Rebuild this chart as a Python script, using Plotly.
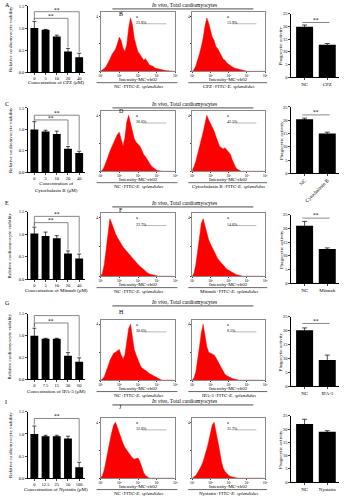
import numpy as np
import plotly.graph_objects as go

W, H = 346, 500
FONT = "Liberation Serif"


def fx(px):
    return px / W


def fy(py):
    return 1 - py / H


# ---------------- data ----------------
conc_cpz = ["0", "5", "10", "20", "40"]
conc_cytb = ["0", "5", "10", "20", "40"]
conc_mitmab = ["0", "5", "10", "20", "40"]
conc_ipa3 = ["0", "7.5", "15", "30", "60"]
conc_nys = ["0", "12.5", "25", "50", "100"]

viab_cpz = [1.00, 0.96, 0.81, 0.47, 0.34]
viab_cpz_err = [0.15, 0.01, 0.03, 0.07, 0.09]
viab_cytb = [1.00, 0.95, 0.89, 0.55, 0.45]
viab_cytb_err = [0.18, 0.03, 0.07, 0.05, 0.04]
viab_mitmab = [1.02, 0.96, 0.91, 0.57, 0.46]
viab_mitmab_err = [0.14, 0.09, 0.06, 0.06, 0.10]
viab_ipa3 = [1.00, 0.93, 0.93, 0.54, 0.40]
viab_ipa3_err = [0.17, 0.01, 0.01, 0.07, 0.09]
viab_nys = [1.00, 0.95, 0.95, 0.90, 0.25]
viab_nys_err = [0.18, 0.02, 0.02, 0.05, 0.11]

groups_cpz = ["NC", "CPZ"]
groups_cytb = ["NC", "Cytochalasin B"]
groups_mitmab = ["NC", "Mitmab"]
groups_ipa3 = ["NC", "IPA-3"]
groups_nys = ["NC", "Nystatin"]

phago_cpz = [19.9, 12.8]
phago_cpz_err = [0.7, 0.5]
phago_cytb = [20.4, 15.0]
phago_cytb_err = [0.4, 0.5]
phago_mitmab = [21.0, 12.5]
phago_mitmab_err = [1.6, 0.4]
phago_ipa3 = [20.2, 9.4]
phago_ipa3_err = [0.8, 1.8]
phago_nys = [21.9, 19.0]
phago_nys_err = [1.8, 0.4]

# histogram bin heights (relative counts)
hist_nc_cpz = [0, 0.02, 0.05, 0.09, 0.15, 0.22, 0.3, 0.36, 0.4, 0.5, 0.62, 0.56, 0.42, 0.36,
               0.48, 0.78, 0.97, 0.85, 0.6, 0.47, 0.35, 0.31, 0.25, 0.2, 0.23, 0.18, 0.12, 0.1,
               0.09, 0.06, 0.05, 0.04, 0.03, 0.02, 0.02, 0.01, 0.01, 0.005, 0, 0]
hist_cpz = [0, 0.03, 0.1, 0.2, 0.32, 0.45, 0.6, 0.82, 0.97, 0.88, 0.76, 0.62, 0.56, 0.45, 0.41,
            0.35, 0.29, 0.22, 0.2, 0.15, 0.13, 0.1, 0.08, 0.06, 0.05, 0.04, 0.03, 0.02, 0.02,
            0.01, 0, 0, 0, 0, 0, 0, 0, 0, 0, 0]
hist_nc_cytb = [0, 0.02, 0.08, 0.16, 0.26, 0.36, 0.44, 0.52, 0.6, 0.66, 0.7, 0.55, 0.45, 0.6,
                0.88, 1.0, 0.85, 0.7, 0.58, 0.52, 0.48, 0.45, 0.38, 0.3, 0.26, 0.2, 0.14, 0.1,
                0.07, 0.04, 0.02, 0.01, 0, 0, 0, 0, 0, 0, 0, 0]
hist_cytb = [0.02, 0.08, 0.18, 0.3, 0.42, 0.55, 0.7, 0.85, 1.0, 0.92, 0.85, 0.8, 0.72, 0.62,
             0.52, 0.45, 0.42, 0.4, 0.42, 0.38, 0.35, 0.3, 0.2, 0.12, 0.06, 0.03, 0.01, 0, 0,
             0, 0, 0, 0, 0, 0, 0, 0, 0, 0, 0]
hist_nc_mitmab = [0, 0.05, 0.2, 0.45, 0.75, 0.98, 0.9, 0.8, 0.72, 0.66, 0.6, 0.55, 0.5, 0.46,
                  0.42, 0.38, 0.34, 0.3, 0.27, 0.24, 0.2, 0.17, 0.14, 0.11, 0.08, 0.06, 0.04,
                  0.03, 0.02, 0.01, 0, 0, 0, 0, 0, 0, 0, 0, 0, 0]
hist_mitmab = [0, 0.05, 0.2, 0.45, 0.7, 0.9, 0.98, 0.85, 0.72, 0.62, 0.55, 0.48, 0.42, 0.36,
               0.3, 0.26, 0.22, 0.18, 0.15, 0.12, 0.1, 0.08, 0.06, 0.04, 0.03, 0.02, 0.01, 0,
               0, 0, 0, 0, 0, 0, 0, 0, 0, 0, 0, 0]
hist_nc_ipa3 = [0, 0.02, 0.06, 0.14, 0.25, 0.35, 0.42, 0.48, 0.5, 0.52, 0.55, 0.45, 0.38,
                0.45, 0.7, 0.92, 1.0, 0.8, 0.55, 0.45, 0.35, 0.28, 0.22, 0.2, 0.18, 0.15, 0.12,
                0.1, 0.08, 0.06, 0.04, 0.02, 0.01, 0, 0, 0, 0, 0, 0, 0]
hist_ipa3 = [0, 0.04, 0.15, 0.35, 0.6, 0.85, 1.0, 0.8, 0.6, 0.5, 0.48, 0.46, 0.45, 0.4, 0.34,
             0.28, 0.22, 0.15, 0.1, 0.08, 0.06, 0.04, 0.03, 0.02, 0.01, 0.01, 0, 0, 0, 0, 0,
             0, 0, 0, 0, 0, 0, 0, 0, 0]
hist_nc_nys = [0, 0.05, 0.15, 0.3, 0.48, 0.66, 0.82, 0.95, 1.0, 0.9, 0.8, 0.7, 0.62, 0.55,
               0.5, 0.45, 0.4, 0.36, 0.34, 0.35, 0.36, 0.3, 0.2, 0.1, 0.05, 0.02, 0, 0, 0, 0,
               0, 0, 0, 0, 0, 0, 0, 0, 0, 0]
hist_nys = [0, 0.02, 0.05, 0.1, 0.15, 0.22, 0.3, 0.4, 0.52, 0.65, 0.8, 0.95, 1.0, 0.85, 0.65,
            0.5, 0.3, 0.18, 0.12, 0.08, 0.05, 0.03, 0.02, 0.01, 0, 0, 0, 0, 0, 0, 0, 0, 0, 0,
            0, 0, 0, 0, 0, 0]

gate_pcts = [["23.8%", "13.9%"], ["36.6%", "42.5%"], ["22.7%", "14.6%"],
             ["30.6%", "8.5%"], ["32.0%", "31.7%"]]

hist_ticks = ["10¹", "10²", "10³", "10⁴", "10⁵"]
viab_ticks = ["0.0", "0.5", "1.0", "1.5"]

rows = [
    dict(letters=("A", "B"), conc=conc_cpz, viab=viab_cpz, verr=viab_cpz_err,
         xtitle="Concentration of CPZ (μM)", groups=groups_cpz, ph=phago_cpz, pherr=phago_cpz_err,
         h1=hist_nc_cpz, h2=hist_cpz, cond="CPZ"),
    dict(letters=("C", "D"), conc=conc_cytb, viab=viab_cytb, verr=viab_cytb_err,
         xtitle="Concentration of<br>Cytochalasin B (μM)", groups=groups_cytb, ph=phago_cytb,
         pherr=phago_cytb_err, h1=hist_nc_cytb, h2=hist_cytb, cond="Cytochalasin B"),
    dict(letters=("E", "F"), conc=conc_mitmab, viab=viab_mitmab, verr=viab_mitmab_err,
         xtitle="Concentration of Mitmab (μM)", groups=groups_mitmab, ph=phago_mitmab,
         pherr=phago_mitmab_err, h1=hist_nc_mitmab, h2=hist_mitmab, cond="Mitmab"),
    dict(letters=("G", "H"), conc=conc_ipa3, viab=viab_ipa3, verr=viab_ipa3_err,
         xtitle="Concentration of IPA-3 (μM)", groups=groups_ipa3, ph=phago_ipa3,
         pherr=phago_ipa3_err, h1=hist_nc_ipa3, h2=hist_ipa3, cond="IPA-3"),
    dict(letters=("I", "J"), conc=conc_nys, viab=viab_nys, verr=viab_nys_err,
         xtitle="Concentration of Nystatin (μM)", groups=groups_nys, ph=phago_nys,
         pherr=phago_nys_err, h1=hist_nc_nys, h2=hist_nys, cond="Nystatin"),
]

# ---------------- layout geometry (pixels) ----------------
left_y = [(4, 71), (107, 172), (212, 280), (315, 381), (414, 481)]
left_title_y = [81, 187, 291, 393, 492]
right_y = [(12, 76), (106, 173), (215, 284), (318, 388), (418, 485)]
hist_y = [(10, 70), (110, 171), (213, 277), (321, 382), (420, 481)]
letter_y = [(3, 12), (103, 110), (203, 210), (304, 313), (404, 409)]
left_x = (26, 84)
h1_x = (100, 176)
h2_x = (193, 267)
right_x = (293, 342)

# significance brackets on the left charts: (bar index, bracket height)
left_sig = [
    [(4, 1.37), (3, 1.22)],
    [(4, 1.33), (3, 1.22)],
    [(4, 1.40), (3, 1.26)],
    [(4, 1.46), (3, 1.29)],
    [(4, 1.35)],
]
right_sig = [21.6, 22.0, 23.8, 22.6, None]

fig = go.Figure()
layout = dict(width=W, height=H, margin=dict(l=0, r=0, t=0, b=0),
              paper_bgcolor="white", plot_bgcolor="white", showlegend=False,
              font=dict(family=FONT, size=5.5, color="black"))
annotations = []
shapes = []


def axkey(n, c):
    return f"{c}axis" if n == 1 else f"{c}axis{n}"


def ref(n, c):
    return c if n == 1 else f"{c}{n}"


def text(x, y, t, size=5.5, angle=0, xanchor="center", yanchor="middle", xref="paper",
         yref="paper", color="black"):
    annotations.append(dict(x=x, y=y, text=t, showarrow=False, textangle=angle,
                            xref=xref, yref=yref, xanchor=xanchor, yanchor=yanchor,
                            font=dict(family=FONT, size=size, color=color)))


def line(x0, y0, x1, y1, xref="paper", yref="paper", color="black", width=0.7):
    shapes.append(dict(type="line", x0=x0, y0=y0, x1=x1, y1=y1, xref=xref, yref=yref,
                       line=dict(color=color, width=width)))


base_axis = dict(showgrid=False, zeroline=False, showline=True, linecolor="black",
                 linewidth=0.8, ticks="outside", ticklen=1.5, tickwidth=0.6,
                 tickfont=dict(family=FONT, size=4.5), fixedrange=True)

for r, row in enumerate(rows):
    nL, nH1, nH2, nR = 4 * r + 1, 4 * r + 2, 4 * r + 3, 4 * r + 4
    base = 100 * r

    # ---- left: viability bar chart ----
    pos = np.arange(len(row["conc"]))
    fig.add_trace(go.Bar(x=pos, y=row["viab"], width=0.7, marker_color="black",
                         marker_line_width=0,
                         error_y=dict(type="data", array=row["verr"], color="black",
                                      thickness=0.7, width=2),
                         xaxis=ref(nL, "x"), yaxis=ref(nL, "y")))
    layout[axkey(nL, "x")] = dict(base_axis, domain=[fx(left_x[0]), fx(left_x[1])],
                                  range=[-0.6, 4.5], tickvals=list(pos),
                                  ticktext=row["conc"], anchor=ref(nL, "y"))
    yt, yb = left_y[r]
    layout[axkey(nL, "y")] = dict(base_axis, domain=[fy(yb), fy(yt)], range=[0, 1.5],
                                  tickvals=[0, 0.5, 1.0, 1.5], ticktext=viab_ticks,
                                  anchor=ref(nL, "x"))
    text(fx(8), fy((yt + yb) / 2), "Relative cardiomyocyte viability", size=5, angle=-90)
    text(fx(55), fy(left_title_y[r]), row["xtitle"], size=5)
    text(fx(1), fy(letter_y[r][0]), row["letters"][0], size=6, xanchor="left")
    text(fx(117), fy(letter_y[r][1]), row["letters"][1], size=6, xanchor="left")

    xr, yr = ref(nL, "x"), ref(nL, "y")
    for (bi, yh) in left_sig[r]:
        line(0, yh, bi, yh, xr, yr, color="#555")
        line(bi, yh, bi, row["viab"][bi] + row["verr"][bi] + 0.03, xr, yr, color="#555")
        line(0, yh, 0, row["viab"][0] + row["verr"][0] + 0.03, xr, yr, color="#555")
        text((bi) / 2, yh + 0.05, "**", size=5.5, xref=xr, yref=yr)

    # ---- histograms ----
    ht, hb = hist_y[r]
    for (n, hx, hdata, cond, pct) in [
        (nH1, h1_x, row["h1"], "NC", gate_pcts[r][0]),
        (nH2, h2_x, row["h2"], row["cond"], gate_pcts[r][1]),
    ]:
        bins = np.arange(len(hdata))
        fig.add_trace(go.Scatter(x=bins, y=hdata, mode="lines", fill="tozeroy",
                                 fillcolor="#ff0000", line=dict(color="#ff0000", width=0.5),
                                 xaxis=ref(n, "x"), yaxis=ref(n, "y")))
        hax = dict(base_axis, linecolor="#888", linewidth=0.6, mirror=True, ticklen=1,
                   tickfont=dict(family=FONT, size=3.5))
        layout[axkey(n, "x")] = dict(hax, domain=[fx(hx[0]), fx(hx[1])],
                                     range=[0, len(hdata)],
                                     tickvals=[0, 10, 20, 30, 40], ticktext=hist_ticks,
                                     anchor=ref(n, "y"))
        layout[axkey(n, "y")] = dict(hax, domain=[fy(hb), fy(ht)], range=[0, 1.08],
                                     tickvals=[0, 0.5, 1.0], ticktext=["", "", "4"],
                                     anchor=ref(n, "x"))
        xd, yd = f"{ref(n, 'x')} domain", f"{ref(n, 'y')} domain"
        text(0.45, 0.93, "a", size=4.5, xref=xd, yref=yd, xanchor="left")
        text(0.45, 0.82, pct, size=4, xref=xd, yref=yd, xanchor="left")
        line(0.55, 0.8, 0.88, 0.8, xd, yd, color="#777", width=0.5)
        cx = (hx[0] + hx[1]) / 2
        text(fx(cx), fy(hb + 8), "Intensity-MC-ch02", size=5)
        line(fx(hx[0] - 4), fy(hb + 11.5), fx(hx[1] + 2), fy(hb + 11.5), width=0.6)
        text(fx(cx), fy(hb + 15), f"{cond}+FITC-<i>E. splendidus</i>", size=5)

    text(fx(185), fy(base + 3), "<i>In vivo</i>, Total cardiomyocytes", size=5.5)
    line(fx(112), fy(base + 7), fx(255), fy(base + 7), width=0.7)

    # ---- right: phagocytic activity ----
    gpos = np.arange(len(row["groups"]))
    fig.add_trace(go.Bar(x=gpos, y=row["ph"], width=0.75, marker_color="black",
                         marker_line_width=0,
                         error_y=dict(type="data", array=row["pherr"], color="black",
                                      thickness=0.7, width=2.5),
                         xaxis=ref(nR, "x"), yaxis=ref(nR, "y")))
    rt, rb = right_y[r]
    layout[axkey(nR, "x")] = dict(base_axis, domain=[fx(right_x[0]), fx(right_x[1])],
                                  range=[-0.61, 1.52], tickvals=list(gpos),
                                  ticktext=row["groups"], anchor=ref(nR, "y"),
                                  tickangle=-45 if r == 1 else 0,
                                  tickfont=dict(family=FONT, size=5))
    layout[axkey(nR, "y")] = dict(base_axis, domain=[fy(rb), fy(rt)], range=[0, 25],
                                  tickvals=[0, 5, 10, 15, 20, 25], anchor=ref(nR, "x"))
    text(fx(283), fy((rt + rb) / 2), "Phagocytic activity", size=5, angle=-90)
    if right_sig[r] is not None:
        xr, yr = ref(nR, "x"), ref(nR, "y")
        line(-0.1, right_sig[r], 1.1, right_sig[r], xr, yr, color="#555")
        text(0.5, right_sig[r] + 1.0, "**", size=5.5, xref=xr, yref=yr)

layout["annotations"] = annotations
layout["shapes"] = shapes
fig.update_layout(**layout)
fig.write_html("out.html")
